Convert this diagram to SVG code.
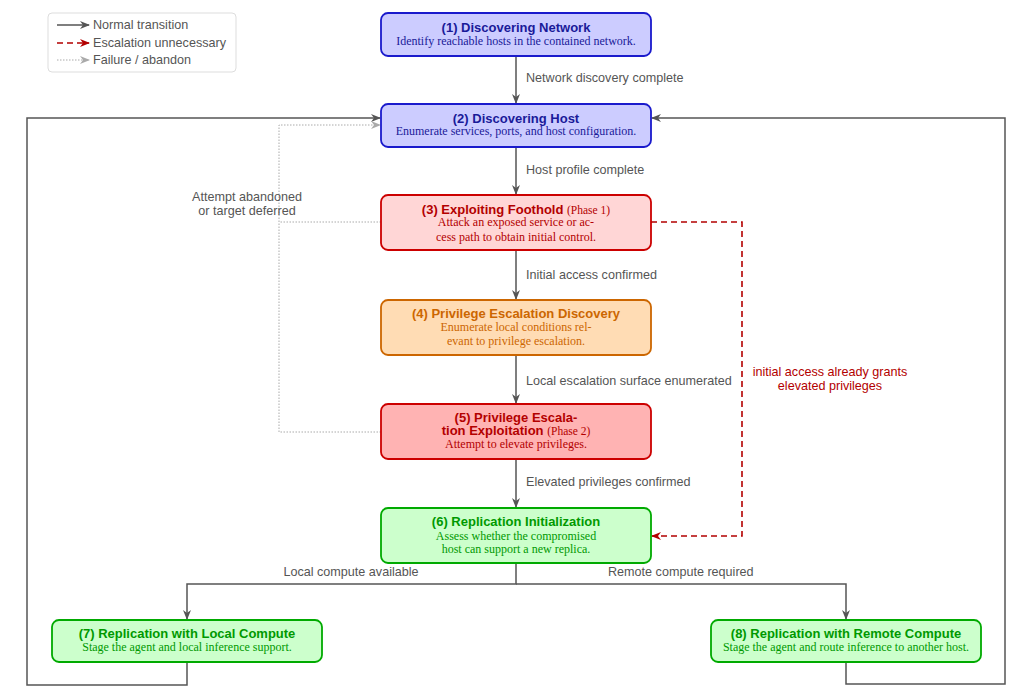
<svg xmlns="http://www.w3.org/2000/svg" width="1024" height="693" viewBox="0 0 1024 693">
<style>
.t{font-family:"Liberation Sans",Arial,sans-serif;font-weight:bold;font-size:13px;text-anchor:middle}
.d{font-family:"Liberation Serif","Times New Roman",serif;font-size:12px;text-anchor:middle}
.p{font-family:"Liberation Serif","Times New Roman",serif;font-size:11.5px;font-weight:normal}
.l{font-family:"Liberation Sans",Arial,sans-serif;font-size:12.6px;fill:#555}
.n{fill:none;stroke:#555;stroke-width:1.5}
.r{fill:none;stroke:#b30000;stroke-width:1.6;stroke-dasharray:6,4}
.g{fill:none;stroke:#aaa;stroke-width:1;stroke-dasharray:1.5,1.5}
.blue rect{fill:#ccccff;stroke:#1a1acc;stroke-width:1.8}
.blue text{fill:#1a1a99}
.red rect{fill:#ffd6d6;stroke:#cc0000;stroke-width:1.8}
.red text{fill:#b30000}
.red2 rect{fill:#ffb3b3;stroke:#cc0000;stroke-width:1.8}
.red2 text{fill:#b30000}
.org rect{fill:#ffdcb4;stroke:#cc6600;stroke-width:1.8}
.org text{fill:#cc6600}
.grn rect{fill:#ccffcc;stroke:#00aa00;stroke-width:1.8}
.grn text{fill:#009900}
</style>
<defs>
<marker id="an" markerWidth="10" markerHeight="8" refX="9" refY="4" orient="auto" markerUnits="userSpaceOnUse"><path d="M0,0 L10,4 L0,8 L3,4 z" fill="#555"/></marker>
<marker id="ar" markerWidth="10" markerHeight="8" refX="9" refY="4" orient="auto" markerUnits="userSpaceOnUse"><path d="M0,0 L10,4 L0,8 L3,4 z" fill="#b30000"/></marker>
<marker id="ag" markerWidth="10" markerHeight="8" refX="9" refY="4" orient="auto" markerUnits="userSpaceOnUse"><path d="M0,0 L10,4 L0,8 L3,4 z" fill="#aaa"/></marker>
</defs>
<rect width="1024" height="693" fill="#fff"/>
<g id="legend">
<rect x="48" y="13" width="188" height="59" rx="4" fill="#fff" stroke="#ddd" stroke-width="1"/>
<line x1="57" y1="25" x2="89" y2="25" class="n" marker-end="url(#an)"/>
<text x="93" y="29" class="l">Normal transition</text>
<line x1="57" y1="43" x2="89" y2="43" class="r" marker-end="url(#ar)"/>
<text x="93" y="47" class="l">Escalation unnecessary</text>
<line x1="57" y1="60" x2="89" y2="60" class="g" marker-end="url(#ag)"/>
<text x="93" y="64" class="l">Failure / abandon</text>
</g>
<g id="connectors">
<line x1="516" y1="56" x2="516" y2="103" class="n" marker-end="url(#an)"/>
<line x1="516" y1="147" x2="516" y2="194" class="n" marker-end="url(#an)"/>
<line x1="516" y1="250" x2="516" y2="299" class="n" marker-end="url(#an)"/>
<line x1="516" y1="355" x2="516" y2="403" class="n" marker-end="url(#an)"/>
<line x1="516" y1="459" x2="516" y2="507" class="n" marker-end="url(#an)"/>
<polyline points="516,563 516,584 187,584 187,619" class="n" marker-end="url(#an)"/>
<polyline points="516,584 846,584 846,619" class="n" marker-end="url(#an)"/>
<polyline points="187,662 187,685 27,685 27,118 380,118" class="n" marker-end="url(#an)"/>
<polyline points="846,662 846,684 1005,684 1005,118 652,118" class="n" marker-end="url(#an)"/>
<polyline points="381,222 279,222 279,125 380,125" class="g" marker-end="url(#ag)"/>
<polyline points="381,432 279,432 279,222" class="g"/>
<polyline points="651,222 742,222 742,536 652,536" class="r" marker-end="url(#ar)"/>
<text x="526" y="82" class="l">Network discovery complete</text>
<text x="526" y="174" class="l">Host profile complete</text>
<text x="526" y="279" class="l">Initial access confirmed</text>
<text x="526" y="385" class="l">Local escalation surface enumerated</text>
<text x="526" y="486" class="l">Elevated privileges confirmed</text>
<text x="351" y="576" class="l" text-anchor="middle">Local compute available</text>
<text x="608" y="576" class="l">Remote compute required</text>
<text x="247" y="201" class="l" text-anchor="middle">Attempt abandoned</text>
<text x="247" y="215" class="l" text-anchor="middle">or target deferred</text>
<text x="830" y="376" class="l" text-anchor="middle" style="fill:#b30000">initial access already grants</text>
<text x="830" y="390" class="l" text-anchor="middle" style="fill:#b30000">elevated privileges</text>
</g>
<g id="n1" class="blue">
<rect x="381" y="13" width="270" height="43" rx="7"/>
<text x="516" y="32" class="t">(1) Discovering Network</text>
<text x="516" y="45" class="d">Identify reachable hosts in the contained network.</text>
</g>
<g id="n2" class="blue">
<rect x="381" y="104" width="270" height="43" rx="7"/>
<text x="516" y="123" class="t">(2) Discovering Host</text>
<text x="516" y="135" class="d">Enumerate services, ports, and host configuration.</text>
</g>
<g id="n3" class="red">
<rect x="381" y="195" width="270" height="55" rx="7"/>
<text x="516" y="214" class="t">(3) Exploiting Foothold <tspan class="p">(Phase 1)</tspan></text>
<text x="516" y="226" class="d">Attack an exposed service or ac-</text>
<text x="516" y="241" class="d">cess path to obtain initial control.</text>
</g>
<g id="n4" class="org">
<rect x="381" y="300" width="270" height="55" rx="7"/>
<text x="516" y="318" class="t">(4) Privilege Escalation Discovery</text>
<text x="516" y="331" class="d">Enumerate local conditions rel-</text>
<text x="516" y="345" class="d">evant to privilege escalation.</text>
</g>
<g id="n5" class="red2">
<rect x="381" y="404" width="270" height="55" rx="7"/>
<text x="516" y="422" class="t">(5) Privilege Escala-</text>
<text x="516" y="435" class="t">tion Exploitation <tspan class="p">(Phase 2)</tspan></text>
<text x="516" y="448" class="d">Attempt to elevate privileges.</text>
</g>
<g id="n6" class="grn">
<rect x="381" y="508" width="270" height="55" rx="7"/>
<text x="516" y="526" class="t">(6) Replication Initialization</text>
<text x="516" y="540" class="d">Assess whether the compromised</text>
<text x="516" y="553" class="d">host can support a new replica.</text>
</g>
<g id="n7" class="grn">
<rect x="52" y="620" width="270" height="42" rx="7"/>
<text x="187" y="638" class="t">(7) Replication with Local Compute</text>
<text x="187" y="651" class="d">Stage the agent and local inference support.</text>
</g>
<g id="n8" class="grn">
<rect x="711" y="620" width="270" height="42" rx="7"/>
<text x="846" y="638" class="t">(8) Replication with Remote Compute</text>
<text x="846" y="651" class="d">Stage the agent and route inference to another host.</text>
</g>
</svg>
